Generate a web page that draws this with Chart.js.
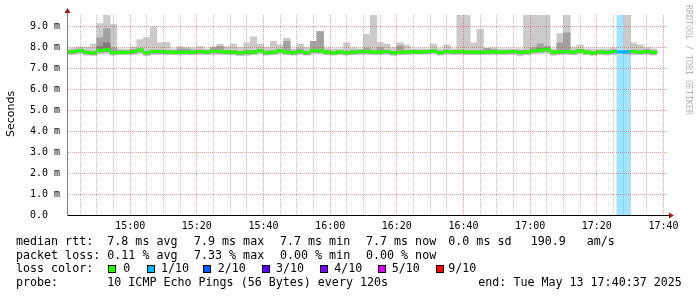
<!DOCTYPE html>
<html>
<head>
<meta charset="utf-8">
<script src="https://cdn.jsdelivr.net/npm/chart.js@4/dist/chart.umd.min.js"></script>
<style>
  html, body { margin: 0; padding: 0; background: #fff; }
  #wrap { width: 697px; height: 297px; position: relative; }
</style>
</head>
<body>
<div id="wrap"><canvas id="smoke"></canvas></div>
<script>
// start of every 2 minute step
const steps = [
  '14:40','14:42','14:44','14:46','14:48','14:50','14:52','14:54','14:56','14:58',
  '15:00','15:02','15:04','15:06','15:08','15:10','15:12','15:14','15:16','15:18',
  '15:20','15:22','15:24','15:26','15:28','15:30','15:32','15:34','15:36','15:38',
  '15:40','15:42','15:44','15:46','15:48','15:50','15:52','15:54','15:56','15:58',
  '16:00','16:02','16:04','16:06','16:08','16:10','16:12','16:14','16:16','16:18',
  '16:20','16:22','16:24','16:26','16:28','16:30','16:32','16:34','16:36','16:38',
  '16:40','16:42','16:44','16:46','16:48','16:50','16:52','16:54','16:56','16:58',
  '17:00','17:02','17:04','17:06','17:08','17:10','17:12','17:14','17:16','17:18',
  '17:20','17:22','17:24','17:26','17:28','17:30','17:32','17:34','17:36'
];

// median rtt (ms)
const median = [
  7.78,7.81,7.85,7.77,7.74,7.86,7.89,7.76,7.77,7.77,
  7.81,7.88,7.74,7.81,7.81,7.78,7.78,7.77,7.78,7.78,
  7.81,7.78,7.82,7.81,7.78,7.78,7.74,7.78,7.78,7.84,
  7.76,7.78,7.84,7.78,7.76,7.81,7.75,7.85,7.84,7.78,
  7.74,7.78,7.75,7.78,7.81,7.81,7.78,7.78,7.81,7.74,
  7.78,7.78,7.79,7.79,7.80,7.83,7.76,7.81,7.79,7.81,
  7.78,7.78,7.78,7.78,7.79,7.78,7.79,7.81,7.77,7.78,
  7.84,7.86,7.90,7.78,7.79,7.81,7.78,7.84,7.78,7.74,
  7.78,7.77,7.81,7.79,7.79,7.81,7.78,7.81,7.77
];

// lost pings out of 10
const lossCount = [
  0,0,0,0,0,0,0,0,0,0, 0,0,0,0,0,0,0,0,0,0,
  0,0,0,0,0,0,0,0,0,0, 0,0,0,0,0,0,0,0,0,0,
  0,0,0,0,0,0,0,0,0,0, 0,0,0,0,0,0,0,0,0,0,
  0,0,0,0,0,0,0,0,0,0, 0,0,0,0,0,0,0,0,0,0,
  0,0,0,1,1,0,0,0,0
];

// smoke: outer band (all pings)
const smokeMax = [
  7.94,7.97,8.03,8.01,8.16,9.14,9.60,9.10,7.94,7.92,
  8.03,8.38,8.47,8.98,8.22,8.25,7.94,8.05,8.00,7.97,
  8.05,7.94,8.03,8.16,8.03,8.16,8.00,8.22,8.51,8.16,
  8.00,8.30,8.13,8.44,7.94,8.16,7.98,8.30,8.76,7.97,
  7.94,7.94,8.22,7.98,7.94,8.63,9.60,8.25,8.16,8.00,
  8.22,8.11,7.94,7.94,7.94,8.16,7.94,8.13,7.94,9.60,
  9.60,8.22,8.87,7.94,7.98,7.94,7.94,7.94,7.94,9.60,
  9.60,9.60,9.60,7.94,8.66,9.60,8.00,8.11,7.94,7.94,
  7.94,7.94,7.97,null,9.60,8.22,8.13,8.00,7.94
];
const smokeMin = [
  7.66,7.66,7.68,7.64,7.62,7.68,7.70,7.64,7.66,7.66,
  7.66,7.70,7.62,7.66,7.66,7.65,7.66,7.65,7.66,7.66,
  7.66,7.66,7.66,7.66,7.66,7.65,7.62,7.62,7.66,7.68,
  7.64,7.66,7.68,7.65,7.64,7.66,7.63,7.68,7.68,7.66,
  7.63,7.66,7.64,7.66,7.66,7.66,7.66,7.66,7.66,7.62,
  7.66,7.66,7.67,7.67,7.67,7.68,7.64,7.66,7.66,7.66,
  7.66,7.66,7.66,7.66,7.66,7.66,7.66,7.66,7.60,7.66,
  7.68,7.70,7.72,7.62,7.66,7.66,7.66,7.68,7.66,7.62,
  7.66,7.63,7.66,null,7.66,7.66,7.66,7.66,7.64
];

// smoke: inner band
const innerMax = [
  7.86,7.88,7.93,7.84,7.82,8.46,8.90,7.98,7.85,7.84,
  7.90,7.95,7.82,7.88,7.88,7.86,7.85,7.94,7.92,7.86,
  7.88,7.85,7.98,8.06,7.86,7.86,7.82,7.88,7.86,7.92,
  7.84,7.86,7.92,8.30,7.84,7.94,7.83,8.30,8.76,7.86,
  7.82,7.86,7.83,7.86,7.88,7.95,7.88,8.00,7.88,7.82,
  8.08,7.86,7.86,7.86,7.87,7.90,7.84,7.88,7.86,7.88,
  7.86,7.86,7.86,7.96,7.90,7.86,7.86,7.88,7.85,7.86,
  8.00,8.17,8.06,7.86,8.22,8.70,7.86,7.91,7.86,7.82,
  7.86,7.85,7.88,null,7.86,7.88,7.86,7.90,7.85
];
const innerMin = [
  7.70,7.72,7.76,7.68,7.66,7.76,7.80,7.67,7.69,7.69,
  7.72,7.78,7.65,7.72,7.72,7.70,7.70,7.69,7.70,7.70,
  7.72,7.70,7.74,7.72,7.70,7.70,7.65,7.68,7.70,7.76,
  7.67,7.70,7.76,7.70,7.67,7.72,7.66,7.76,7.76,7.70,
  7.66,7.70,7.67,7.70,7.72,7.72,7.70,7.70,7.72,7.66,
  7.70,7.70,7.71,7.71,7.72,7.75,7.68,7.72,7.71,7.72,
  7.70,7.70,7.70,7.70,7.71,7.70,7.71,7.72,7.68,7.70,
  7.76,7.78,7.80,7.68,7.70,7.72,7.70,7.76,7.70,7.66,
  7.70,7.68,7.72,null,7.70,7.72,7.70,7.72,7.68
];

// smoke: core band (only where it shows)
const coreMax = [
  null,null,null,null,null,8.05,8.22,null,null,null,
  null,null,null,null,null,null,null,null,null,null,
  null,null,null,null,null,null,null,null,null,null,
  null,null,null,null,null,null,null,null,null,null,
  null,null,null,null,null,null,null,null,null,null,
  null,null,null,null,null,null,null,null,null,null,
  null,null,null,null,null,null,null,null,null,null,
  null,7.96,null,null,null,null,null,null,null,null,
  null,null,null,null,null,null,null,null,null
];
const coreMin = [
  null,null,null,null,null,7.80,7.82,null,null,null,
  null,null,null,null,null,null,null,null,null,null,
  null,null,null,null,null,null,null,null,null,null,
  null,null,null,null,null,null,null,null,null,null,
  null,null,null,null,null,null,null,null,null,null,
  null,null,null,null,null,null,null,null,null,null,
  null,null,null,null,null,null,null,null,null,null,
  null,7.80,null,null,null,null,null,null,null,null,
  null,null,null,null,null,null,null,null,null
];

const lossLevels = [0, 1, 2, 3, 4, 5, 9];
const lossLabels = ['0', '1/10', '2/10', '3/10', '4/10', '5/10', '9/10'];
const lossColors = ['#26ff00', '#00b8ff', '#0059ff', '#5e00ff', '#7e00ff', '#dd00ff', '#ff0000'];

const xTickValues = [-15,-10,-5,0,5,10,15,20,25,30,35,40,45,50,55,60,65,70,75,80,85,90,95,100,
  105,110,115,120,125,130,135,140,145,150,155,160];
const xLabels = ['15:00','15:20','15:40','16:00','16:20','16:40','17:00','17:20','17:40'];
const yTickValues = [0,0.5,1,1.5,2,2.5,3,3.5,4,4.5,5,5.5,6,6.5,7,7.5,8,8.5,9,9.5];
const yLabels = ['0.0  ','1.0 m','2.0 m','3.0 m','4.0 m','5.0 m','6.0 m','7.0 m','8.0 m','9.0 m'];

const Y_TOP = 9.55;
const MEDIAN_HALF = 0.06;

function toMin(s) {
  const [h, m] = s.split(':').map(Number);
  return (h - 15) * 60 + m;
}
const xs = steps.map(s => toMin(s) + 1);

function colorFor(n) {
  let c = lossColors[0];
  lossLevels.forEach((lv, i) => { if (n >= lv) c = lossColors[i]; });
  return c;
}

function band(lo, hi) {
  return xs.map((x, i) => ({ x: x, y: lo[i] == null ? null : [lo[i], hi[i]] }));
}

const barBase = { grouped: false, barPercentage: 1, categoryPercentage: 1, borderWidth: 0, clip: 0 };

const majorGrid = 'rgba(220,70,70,0.55)';
const minorGrid = 'rgba(140,140,140,0.55)';
const mono = '"DejaVu Sans Mono", "Liberation Mono", monospace';

// legend rows below the graph
const legendRows = [
  [['median rtt:', 16], ['7.8 ms avg', 107.3], ['7.9 ms max', 194], ['7.7 ms min', 280],
   ['7.7 ms now', 366], ['0.0 ms sd', 448.3], ['190.9', 530.7], ['am/s', 586.7]],
  [['packet loss:', 16], ['0.11 % avg', 107.3], ['7.33 % max', 194], ['0.00 % min', 280],
   ['0.00 % now', 366]],
  [['loss color:', 16]],
  [['probe:', 16], ['10 ICMP Echo Pings (56 Bytes) every 120s', 107.3],
   ['end: Tue May 13 17:40:37 2025', 478.3]]
];
const rowY = [241.7, 255.5, 269.3, 283.3];
const boxX = [108.3, 146.7, 203.3, 261.7, 320, 378.3, 435.7];
const boxLabelX = [123.3, 161, 217.7, 276, 334.3, 391.7, 448.3];

const decor = {
  id: 'decor',
  afterDraw(chart) {
    const { ctx, chartArea: a } = chart;
    ctx.save();
    // axis extensions and arrows
    ctx.strokeStyle = '#808080';
    ctx.lineWidth = 1;
    ctx.beginPath(); ctx.moveTo(a.left + 0.5, a.top); ctx.lineTo(a.left + 0.5, a.top - 3); ctx.stroke();
    ctx.strokeStyle = '#000';
    ctx.beginPath(); ctx.moveTo(a.right, Math.round(a.bottom) + 0.5); ctx.lineTo(a.right + 3, Math.round(a.bottom) + 0.5); ctx.stroke();
    ctx.fillStyle = '#9b1b1b';
    ctx.beginPath();
    ctx.moveTo(a.left + 0.5, a.top - 7);
    ctx.lineTo(a.left - 2.5, a.top - 2);
    ctx.lineTo(a.left + 3.5, a.top - 2);
    ctx.closePath(); ctx.fill();
    const by = Math.round(a.bottom) + 0.5;
    ctx.beginPath();
    ctx.moveTo(a.right + 7, by);
    ctx.lineTo(a.right + 2, by - 3);
    ctx.lineTo(a.right + 2, by + 3);
    ctx.closePath(); ctx.fill();

    // y title
    ctx.fillStyle = '#000';
    ctx.font = '11px "DejaVu Sans", sans-serif';
    ctx.textAlign = 'center';
    ctx.textBaseline = 'middle';
    ctx.save();
    ctx.translate(11, 114);
    ctx.rotate(-Math.PI / 2);
    ctx.fillText('Seconds', 0, 0);
    ctx.restore();

    // watermark
    ctx.save();
    ctx.fillStyle = '#b4b4b4';
    ctx.font = '8.3px ' + mono;
    ctx.textAlign = 'left';
    ctx.translate(688, 5);
    ctx.rotate(Math.PI / 2);
    ctx.fillText('RRDTOOL / TOBI OETIKER', 0, 0);
    ctx.restore();

    // legend text
    ctx.font = '11.67px ' + mono;
    ctx.textAlign = 'left';
    ctx.fillStyle = '#000';
    legendRows.forEach((row, r) => {
      row.forEach(([t, x]) => ctx.fillText(t, x, rowY[r]));
    });
    lossColors.forEach((c, i) => {
      const x = Math.round(boxX[i]), y = Math.round(rowY[2] - 4);
      ctx.fillStyle = c;
      ctx.fillRect(x, y, 8, 8);
      ctx.strokeStyle = '#000';
      ctx.strokeRect(x + 0.5, y + 0.5, 7, 7);
      ctx.fillStyle = '#000';
      ctx.fillText(lossLabels[i], boxLabelX[i], rowY[2]);
    });
    ctx.restore();
  }
};

new Chart(document.getElementById('smoke'), {
  type: 'bar',
  data: {
    datasets: [
      Object.assign({}, barBase, {
        label: 'median',
        order: 0,
        data: median.map((m, i) => ({ x: xs[i], y: [m - MEDIAN_HALF, m + MEDIAN_HALF] })),
        backgroundColor: lossCount.map(colorFor)
      }),
      Object.assign({}, barBase, {
        label: 'core', order: 1, data: band(coreMin, coreMax), backgroundColor: '#7a7a7a'
      }),
      Object.assign({}, barBase, {
        label: 'inner', order: 2, data: band(innerMin, innerMax), backgroundColor: '#a2a2a2'
      }),
      Object.assign({}, barBase, {
        label: 'smoke', order: 3, data: band(smokeMin, smokeMax), backgroundColor: '#cbcbcb'
      }),
      Object.assign({}, barBase, {
        label: 'loss', order: 4,
        data: lossCount.map((n, i) => ({ x: xs[i], y: n > 0 ? [0, Y_TOP] : null })),
        backgroundColor: lossCount.map(n => colorFor(n) + '5c')
      })
    ]
  },
  options: {
    responsive: true,
    maintainAspectRatio: false,
    animation: false,
    events: [],
    layout: { padding: { top: 15, right: 30, left: 0, bottom: 0 } },
    plugins: { legend: { display: false }, tooltip: { enabled: false } },
    scales: {
      x: {
        type: 'linear',
        offset: false,
        min: -18.95,
        max: 161.05,
        afterBuildTicks: s => { s.ticks = xTickValues.map(v => ({ value: v })); },
        afterFit: s => { s.height = 81.7; },
        grid: {
          z: 1,
          offset: false,
          drawTicks: false,
          color: c => (c.tick && c.tick.value % 20 === 0) ? majorGrid : minorGrid,
          borderDash: [1, 1]
        },
        border: { z: 2, color: '#000', width: 1, dash: [1, 1] },
        ticks: {
          autoSkip: false, maxRotation: 0, minRotation: 0, padding: 5,
          color: '#000',
          font: { family: mono, size: 10 },
          callback: v => (v % 20 === 0 ? xLabels[v / 20] : '')
        }
      },
      y: {
        min: 0,
        max: Y_TOP,
        afterBuildTicks: s => { s.ticks = yTickValues.map(v => ({ value: v })); },
        afterFit: s => { s.width = 67; },
        grid: {
          z: 1,
          drawTicks: false,
          color: c => (c.tick && Number.isInteger(c.tick.value)) ? majorGrid : minorGrid,
          borderDash: [1, 1]
        },
        border: { z: 2, color: '#808080', width: 1, dash: [1, 1] },
        ticks: {
          padding: 7,
          color: '#000',
          font: { family: mono, size: 10 },
          callback: v => (Number.isInteger(v) ? yLabels[v] : '')
        }
      }
    }
  },
  plugins: [decor]
});
</script>
</body>
</html>
